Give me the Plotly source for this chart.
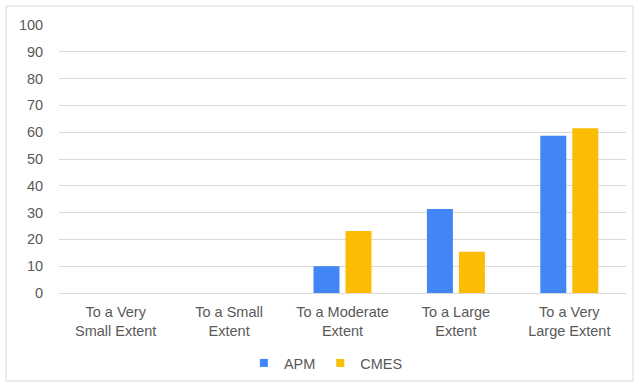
import plotly.graph_objects as go

categories = ["To a Very<br>Small Extent", "To a Small<br>Extent", "To a Moderate<br>Extent",
              "To a Large<br>Extent", "To a Very<br>Large Extent"]
apm = [0, 0, 10, 31.3, 58.7]
cmes = [0, 0, 23.1, 15.4, 61.5]
y_ticks = list(range(0, 101, 10))
series_names = ["APM", "CMES"]
series_colors = ["#4285F4", "#FBBC04"]

W, H = 639, 387
L, R, T, B = 59, 13, 25, 94
pw, ph = W - L - R, H - T - B
FS = 14.5

fig = go.Figure()
for name, vals, col in zip(series_names, [apm, cmes], series_colors):
    fig.add_trace(go.Bar(name=name, x=categories, y=vals, marker=dict(color=col, line=dict(width=0)),
                         showlegend=False))
# legend entries with small square markers
for name, col in zip(series_names, series_colors):
    fig.add_trace(go.Scatter(name=name, x=[None], y=[None], mode="markers",
                             marker=dict(symbol="square", size=8, color=col), showlegend=True))

def px2paper_x(px):
    return (px - L) / pw

def px2paper_y(py):
    return (H - B - py) / ph

fig.add_shape(type="rect", xref="paper", yref="paper",
              x0=px2paper_x(6), x1=px2paper_x(633), y0=px2paper_y(381), y1=px2paper_y(6),
              line=dict(color="#d9d9d9", width=1), fillcolor="rgba(0,0,0,0)", layer="below")

fig.update_layout(
    width=W, height=H,
    margin=dict(l=L, r=R, t=T, b=B, autoexpand=False),
    paper_bgcolor="white", plot_bgcolor="white",
    barmode="group", bargap=0.436, bargroupgap=0.1875,
    font=dict(family="Liberation Sans, Arial, sans-serif", size=FS, color="#595959"),
    showlegend=True,
    legend=dict(orientation="h", xref="container", yref="container", x=0.51, y=0.062,
                xanchor="center", yanchor="middle", font=dict(size=FS, color="#595959"),
                bgcolor="rgba(0,0,0,0)", itemwidth=30, tracegroupgap=0),
    xaxis=dict(showgrid=False, showline=False, ticks="outside", ticklen=6, automargin=False,
               tickcolor="rgba(0,0,0,0)", tickfont=dict(size=FS, color="#595959")),
    yaxis=dict(range=[0, 100], tickvals=y_ticks, showgrid=True, gridcolor="#d9d9d9", gridwidth=1,
               zeroline=True, zerolinecolor="#d9d9d9", zerolinewidth=1, showline=False,
               automargin=False, ticks="outside", ticklen=12, tickcolor="rgba(0,0,0,0)",
               tickfont=dict(size=FS, color="#595959")),
)

fig.write_html("out.html")
